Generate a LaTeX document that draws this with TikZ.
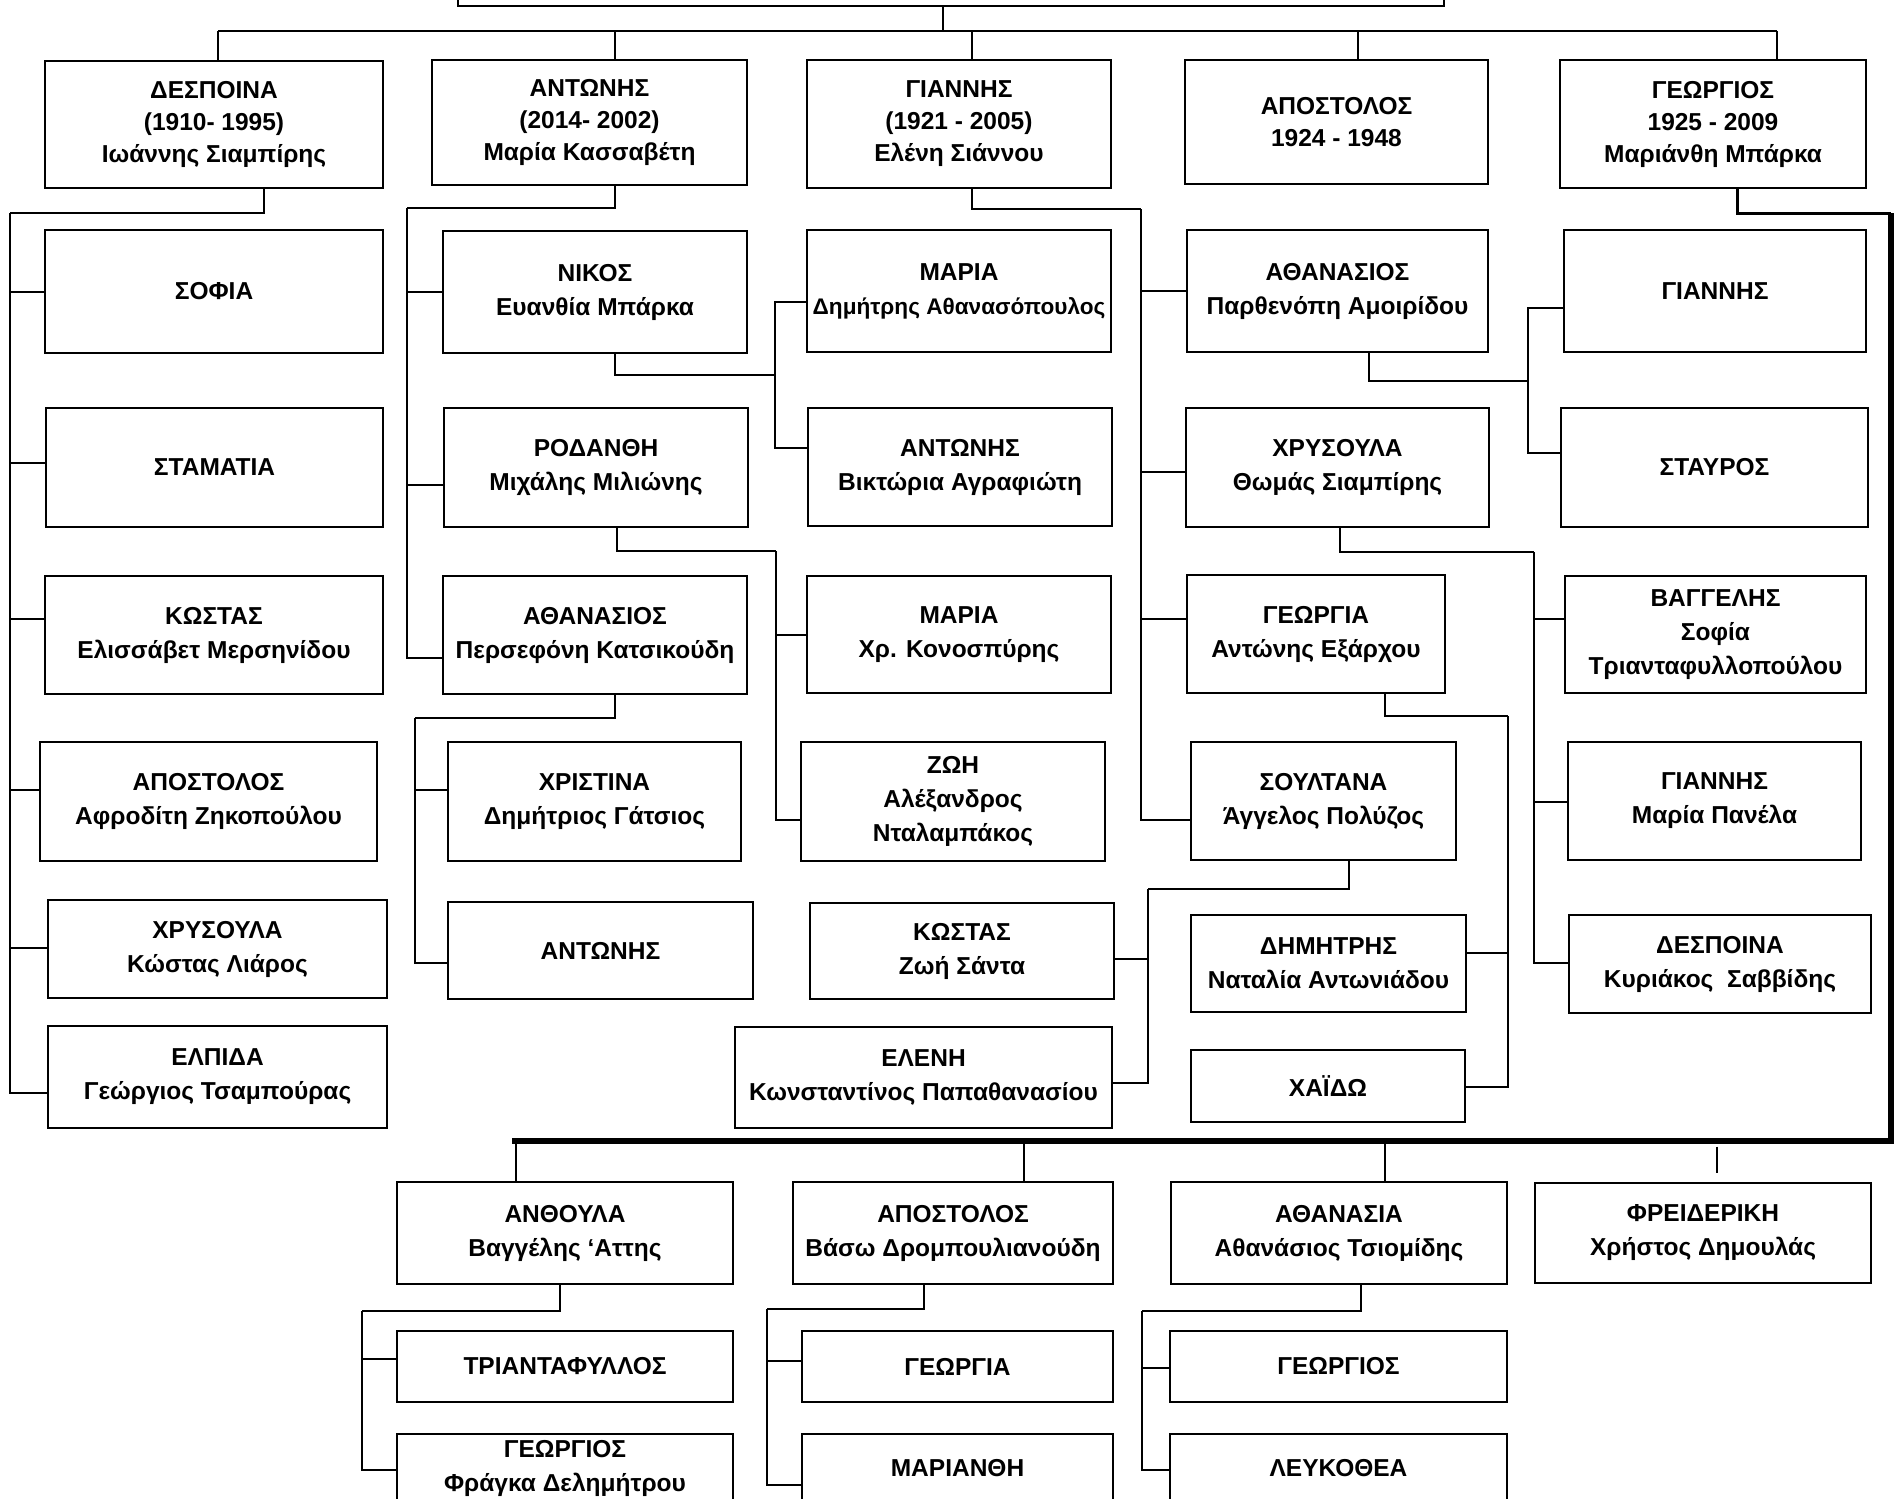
\documentclass[tikz,border=0pt]{standalone}
\usepackage{fontspec}
\setmainfont{Liberation Sans}
\tikzset{
  box/.style={draw, line width=2.6pt, inner sep=0pt, align=center, fill=white,
    font=\bfseries\fontsize{24.5}{34}\selectfont},
  boxa/.style={box, font=\bfseries\fontsize{24.5}{32}\selectfont},
  txt/.style={inner sep=0pt, align=center, font=\bfseries\fontsize{24.5}{34}\selectfont},
  conn/.style={line width=2pt},
  heavy/.style={line width=6.5pt, line join=miter}
}
\newcommand{\bx}[7][box]{\node[#1, minimum width=#5, minimum height=#6] (#2) at (#3,#4) {#7};}
\begin{document}
\begin{tikzpicture}[x=1pt,y=-1pt]
\useasboundingbox (0,0) rectangle (1901,1499);
% top box
\bx{top}{951}{-24}{986}{60}{}
% level 1
\bx[boxa]{L1a}{214}{124.5}{338}{127}{ΔΕΣΠΟΙΝΑ\\(1910- 1995)\\Ιωάννης Σιαμπίρης}
\bx[boxa]{L1b}{589.5}{122.5}{315}{125}{ΑΝΤΩΝΗΣ\\(2014- 2002)\\Μαρία Κασσαβέτη}
\bx[boxa]{L1c}{959}{124}{304}{128}{ΓΙΑΝΝΗΣ\\(1921 - 2005)\\Ελένη Σιάννου}
\bx[boxa]{L1d}{1336.5}{122}{303}{124}{ΑΠΟΣΤΟΛΟΣ\\1924 - 1948}
\bx[boxa]{L1e}{1713}{124}{306}{128}{ΓΕΩΡΓΙΟΣ\\1925 - 2009\\Μαριάνθη Μπάρκα}
% column 1
\bx{s1}{214}{291.5}{338}{123}{ΣΟΦΙΑ}
\bx{s2}{214.5}{467.5}{337}{119}{ΣΤΑΜΑΤΙΑ}
\bx{s3}{214}{635}{338}{118}{ΚΩΣΤΑΣ\\Ελισσάβετ Μερσηνίδου}
\bx{s4}{208.5}{801.5}{337}{119}{ΑΠΟΣΤΟΛΟΣ\\Αφροδίτη Ζηκοπούλου}
\bx{s5}{217.5}{949}{339}{98}{ΧΡΥΣΟΥΛΑ\\Κώστας Λιάρος}
\bx{s6}{217.5}{1077}{339}{102}{ΕΛΠΙΔΑ\\Γεώργιος Τσαμπούρας}
% column 2
\bx{n1}{595}{292}{304}{122}{ΝΙΚΟΣ\\Ευανθία Μπάρκα}
\bx{n2}{596}{467.5}{304}{119}{ΡΟΔΑΝΘΗ\\Μιχάλης Μιλιώνης}
\bx{n3}{595}{635}{304}{118}{ΑΘΑΝΑΣΙΟΣ\\Περσεφόνη Κατσικούδη}
\bx{g1}{594.5}{801.5}{293}{119}{ΧΡΙΣΤΙΝΑ\\Δημήτριος Γάτσιος}
\bx{g2}{600.5}{950.5}{305}{97}{ΑΝΤΩΝΗΣ}
% column 3
\bx{m1}{959}{291}{304}{122}{ΜΑΡΙΑ\\{\fontsize{22.6}{34}\selectfont Δημήτρης Αθανασόπουλος}}
\bx{m2}{960}{467}{304}{118}{ΑΝΤΩΝΗΣ\\Βικτώρια Αγραφιώτη}
\bx{m3}{959}{634.5}{304}{117}{ΜΑΡΙΑ\\Χρ. Κονοσπύρης}
\bx{m4}{953}{801.5}{304}{119}{ΖΩΗ\\Αλέξανδρος\\Νταλαμπάκος}
\bx{k1}{962}{951}{304}{96}{ΚΩΣΤΑΣ\\Ζωή Σάντα}
\bx{k2}{923.5}{1077.5}{377}{101}{ΕΛΕΝΗ\\Κωνσταντίνος Παπαθανασίου}
% column 4
\bx{a1}{1337.5}{291}{301}{122}{ΑΘΑΝΑΣΙΟΣ\\Παρθενόπη Αμοιρίδου}
\bx{a2}{1337.5}{467.5}{303}{119}{ΧΡΥΣΟΥΛΑ\\Θωμάς Σιαμπίρης}
\bx{a3}{1316}{634}{258}{118}{ΓΕΩΡΓΙΑ\\Αντώνης Εξάρχου}
\bx{a4}{1323.5}{801}{265}{118}{ΣΟΥΛΤΑΝΑ\\Άγγελος Πολύζος}
\bx{d1}{1328.5}{963.5}{275}{97}{ΔΗΜΗΤΡΗΣ\\Ναταλία Αντωνιάδου}
\bx{d2}{1328}{1086}{274}{72}{ΧΑΪΔΩ}
% column 5
\bx{r1}{1715}{291}{302}{122}{ΓΙΑΝΝΗΣ}
\bx{r2}{1714.5}{467.5}{307}{119}{ΣΤΑΥΡΟΣ}
\bx{r3}{1715.5}{634.5}{301}{117}{ΒΑΓΓΕΛΗΣ\\Σοφία\\Τριανταφυλλοπούλου}
\bx{r4}{1714.5}{801}{293}{118}{ΓΙΑΝΝΗΣ\\Μαρία Πανέλα}
\bx{r5}{1720}{964}{302}{98}{ΔΕΣΠΟΙΝΑ\\Κυριάκος\ \ Σαββίδης}
% bottom row
\bx{b1}{565}{1233}{336}{102}{ΑΝΘΟΥΛΑ\\Βαγγέλης ‘Αττης}
\bx{b2}{953}{1233}{320}{102}{ΑΠΟΣΤΟΛΟΣ\\Βάσω Δρομπουλιανούδη}
\bx{b3}{1339}{1233}{336}{102}{ΑΘΑΝΑΣΙΑ\\Αθανάσιος Τσιομίδης}
\bx{b4}{1703}{1233}{336}{100}{ΦΡΕΙΔΕΡΙΚΗ\\Χρήστος Δημουλάς}
\bx{t1}{565}{1366.5}{336}{71}{ΤΡΙΑΝΤΑΦΥΛΛΟΣ}
\bx{t2}{565}{1484}{336}{100}{}
\node[txt] (t2t) at (565,1468) {ΓΕΩΡΓΙΟΣ\\Φράγκα Δελημήτρου};
\bx{u1}{957.5}{1366.5}{311}{71}{ΓΕΩΡΓΙΑ}
\bx{u2}{957.5}{1484}{311}{100}{}
\node[txt] (u2t) at (957.5,1468) {ΜΑΡΙΑΝΘΗ};
\bx{v1}{1338.5}{1366.5}{337}{71}{ΓΕΩΡΓΙΟΣ}
\bx{v2}{1338.5}{1484}{337}{100}{}
\node[txt] (v2t) at (1338.5,1468) {ΛΕΥΚΟΘΕΑ};

% ---- connectors ----
\coordinate (busL) at (218,31);
\coordinate (busR) at (1777,31);
\draw[conn] (busL) -- (busR);
\draw[conn] ([xshift=-8]top.south) -- ([xshift=-8]top.south |- busL);
\draw[conn] ([xshift=4]L1a.north) -- ([xshift=4]L1a.north |- busL);
\draw[conn] ([xshift=25.5]L1b.north) -- ([xshift=25.5]L1b.north |- busL);
\draw[conn] ([xshift=13]L1c.north) -- ([xshift=13]L1c.north |- busL);
\draw[conn] ([xshift=21.5]L1d.north) -- ([xshift=21.5]L1d.north |- busL);
\draw[conn] ([xshift=64]L1e.north) -- ([xshift=64]L1e.north |- busL);

% ΔΕΣΠΟΙΝΑ
\coordinate (fA) at (10,213);
\draw[conn] ([xshift=50]L1a.south) |- (fA);
\draw[conn] (fA) |- (s1.west);
\draw[conn] (fA) |- ([yshift=4.5]s2.west);
\draw[conn] (fA) |- ([yshift=16]s3.west);
\draw[conn] (fA) |- ([yshift=11.5]s4.west);
\draw[conn] (fA) |- ([yshift=1]s5.west);
\draw[conn] (fA) |- ([yshift=-16]s6.west);
% ΑΝΤΩΝΗΣ
\coordinate (fB) at (407,208);
\draw[conn] ([xshift=25.5]L1b.south) |- (fB);
\draw[conn] (fB) |- (n1.west);
\draw[conn] (fB) |- ([yshift=-17.5]n2.west);
\draw[conn] (fB) |- ([yshift=-23]n3.west);
% ΑΘΑΝΑΣΙΟΣ (n3)
\coordinate (fC) at (415,718);
\draw[conn] ([xshift=20]n3.south) |- (fC);
\draw[conn] (fC) |- ([yshift=11.5]g1.west);
\draw[conn] (fC) |- ([yshift=-12.5]g2.west);
% ΝΙΚΟΣ
\coordinate (fD) at (775,375);
\draw[conn] ([xshift=20]n1.south) |- (fD);
\draw[conn] (fD) |- ([yshift=-11]m1.west);
\draw[conn] (fD) |- ([yshift=19]m2.west);
% ΡΟΔΑΝΘΗ
\coordinate (fE) at (776,551);
\draw[conn] ([xshift=21]n2.south) |- (fE);
\draw[conn] (fE) |- (m3.west);
\draw[conn] (fE) |- ([yshift=-18.5]m4.west);
% ΓΙΑΝΝΗΣ
\coordinate (fF) at (1141,209);
\draw[conn] ([xshift=13]L1c.south) |- (fF);
\draw[conn] (fF) |- (a1.west);
\draw[conn] (fF) |- ([yshift=-4.5]a2.west);
\draw[conn] (fF) |- ([yshift=15]a3.west);
\draw[conn] (fF) |- ([yshift=-19]a4.west);
% ΣΟΥΛΤΑΝΑ
\coordinate (fG) at (1148,889);
\draw[conn] ([xshift=25.5]a4.south) |- (fG);
\draw[conn] (fG) |- ([yshift=-8]k1.east);
\draw[conn] (fG) |- ([yshift=-5.5]k2.east);
% ΓΕΩΡΓΙΑ
\coordinate (fH) at (1508,716);
\draw[conn] ([xshift=69]a3.south) |- (fH);
\draw[conn] (fH) |- ([yshift=10.5]d1.east);
\draw[conn] (fH) |- ([yshift=-1]d2.east);
% ΑΘΑΝΑΣΙΟΣ (a1)
\coordinate (fI) at (1528,381);
\draw[conn] ([xshift=31.5]a1.south) |- (fI);
\draw[conn] (fI) |- ([yshift=-17]r1.west);
\draw[conn] (fI) |- ([yshift=14.5]r2.west);
% ΧΡΥΣΟΥΛΑ (a2)
\coordinate (fJ) at (1534,552);
\draw[conn] ([xshift=2.5]a2.south) |- (fJ);
\draw[conn] (fJ) |- ([yshift=15.5]r3.west);
\draw[conn] (fJ) |- ([yshift=-1]r4.west);
\draw[conn] (fJ) |- ([yshift=1]r5.west);
% ΓΕΩΡΓΙΟΣ
\coordinate (fK) at (1891,213);
\coordinate (fK2) at (1891,1141);
\coordinate (fK3) at (512,1141);
\draw[line width=3pt] ([xshift=24]L1e.south) |- (fK);
\draw[heavy] (fK) -- (fK2) -- (fK3);
\draw[conn] ([xshift=-49]b1.north) -- ([xshift=-49]b1.north |- fK3);
\draw[conn] ([xshift=71]b2.north) -- ([xshift=71]b2.north |- fK3);
\draw[conn] ([xshift=46]b3.north) -- ([xshift=46]b3.north |- fK3);
\draw[conn] ([xshift=14,yshift=35]b4.north) -- ([xshift=14,yshift=9]b4.north);
% ΑΝΘΟΥΛΑ
\coordinate (fL) at (362,1311);
\draw[conn] ([xshift=-5]b1.south) |- (fL);
\draw[conn] (fL) |- ([yshift=7.5]t1.west);
\draw[conn] (fL) |- ([yshift=14]t2.west);
% ΑΠΟΣΤΟΛΟΣ (b2)
\coordinate (fM) at (767,1309);
\draw[conn] ([xshift=-29]b2.south) |- (fM);
\draw[conn] (fM) |- ([yshift=5.5]u1.west);
\draw[conn] (fM) |- ([yshift=-1]u2.west);
% ΑΘΑΝΑΣΙΑ
\coordinate (fN) at (1142,1311);
\draw[conn] ([xshift=22]b3.south) |- (fN);
\draw[conn] (fN) |- ([yshift=-1.5]v1.west);
\draw[conn] (fN) |- ([yshift=14]v2.west);
\end{tikzpicture}
\end{document}
